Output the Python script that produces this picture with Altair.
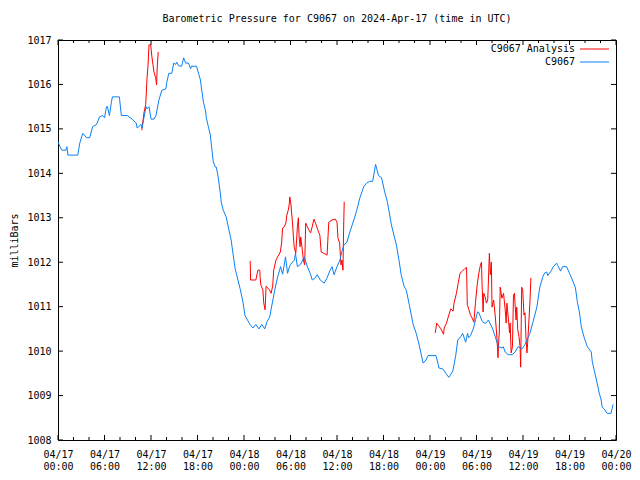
import altair as alt
import pandas as pd

# ---------------- data (hours since 2024-04-17 00:00 UTC, millibars) ----------------
blue_hours = [0.0, 0.26, 0.51, 1.02, 1.15, 1.28, 2.55, 2.81, 3.19, 3.70, 4.09, 4.47, 4.98, 5.36,
              5.74, 6.0, 6.26, 6.38, 6.64, 6.89, 7.02, 7.92, 8.17, 8.94, 9.57, 10.09, 10.21, 10.72,
              10.85, 11.11, 11.36, 11.49, 11.74, 12.0, 12.38, 12.64, 13.02, 13.40, 13.92, 14.04,
              14.30, 14.68, 14.94, 15.19, 15.32, 15.57, 15.96, 16.21, 16.47, 16.85, 17.11, 17.23,
              17.87, 18.13, 18.38, 18.51, 18.77, 19.02, 19.15, 19.40, 19.66, 19.79, 20.04, 20.30,
              20.43, 20.68, 20.94, 21.06, 21.32, 21.70, 21.96, 22.34, 22.85, 23.49, 23.87, 24.13,
              24.77, 25.15, 25.53, 25.92, 26.30, 26.68, 26.94, 27.32, 27.96, 28.34, 28.72, 28.98,
              29.36, 29.62, 29.87, 30.0, 30.51, 30.64, 30.89, 31.28, 31.79, 32.17, 32.55, 32.81,
              33.19, 33.45, 33.83, 34.34, 34.72, 35.11, 35.36, 35.62, 36.0, 36.38, 36.64, 36.89,
              37.28, 37.66, 38.17, 38.55, 38.94, 39.45, 39.83, 40.21, 40.60, 40.98, 41.36, 41.75,
              42.13, 42.51, 43.02, 43.66, 44.04, 44.30, 44.68, 44.94, 45.32, 45.83, 46.22, 46.60,
              47.11, 47.49, 47.74, 48.77, 49.02, 49.15, 49.66, 50.04, 50.43, 50.94, 51.32, 51.58,
              51.96, 52.21, 52.60, 52.85, 52.98, 53.23, 53.62, 54.13, 54.26, 54.77, 55.15, 55.53,
              56.04, 56.43, 56.81, 57.32, 57.45, 57.70, 58.09, 58.60, 58.98, 59.36, 59.87, 60.26,
              60.64, 60.89, 61.28, 61.79, 62.17, 62.55, 62.81, 63.06, 63.19, 63.70, 63.83, 64.34,
              64.47, 64.85, 65.11, 65.62, 66.0, 66.38, 66.77, 67.02, 67.28, 67.53, 67.92, 68.30,
              68.81, 68.94, 69.19, 69.57, 69.83, 70.09, 70.21, 70.47, 70.85, 71.36, 71.49, 71.62]
blue_values = [1014.71, 1014.6, 1014.52, 1014.52, 1014.6, 1014.41, 1014.41, 1014.68, 1014.9, 1014.8,
               1014.8, 1015.05, 1015.1, 1015.27, 1015.3, 1015.25, 1015.5, 1015.5, 1015.3, 1015.6,
               1015.72, 1015.72, 1015.3, 1015.3, 1015.22, 1015.13, 1015.02, 1015.1, 1015.02, 1015.27,
               1015.5, 1015.45, 1015.5, 1015.22, 1015.22, 1015.3, 1015.65, 1015.87, 1015.9, 1016.05,
               1016.25, 1016.25, 1016.48, 1016.45, 1016.5, 1016.42, 1016.41, 1016.6, 1016.48, 1016.48,
               1016.35, 1016.41, 1016.41, 1016.25, 1016.1, 1015.92, 1015.6, 1015.42, 1015.24, 1015.05,
               1014.86, 1014.64, 1014.26, 1014.14, 1014.14, 1013.9, 1013.56, 1013.36, 1013.17, 1013.02,
               1012.8, 1012.5, 1011.86, 1011.41, 1011.1, 1010.8, 1010.6, 1010.52, 1010.6, 1010.5,
               1010.6, 1010.5, 1010.65, 1010.77, 1011.37, 1011.67, 1011.9, 1011.73, 1012.12, 1011.75,
               1011.9, 1011.95, 1012.05, 1012.2, 1011.9, 1011.95, 1012.12, 1011.9, 1011.75, 1011.6,
               1011.65, 1011.72, 1011.6, 1011.53, 1011.65, 1011.82, 1011.9, 1011.72, 1011.9, 1012.05,
               1012.25, 1012.39, 1012.45, 1012.68, 1012.95, 1013.17, 1013.44, 1013.7, 1013.78, 1013.82,
               1013.82, 1014.2, 1013.95, 1013.9, 1013.6, 1013.35, 1012.84, 1012.39, 1012.0, 1011.7,
               1011.45, 1011.37, 1011.05, 1010.6, 1010.4, 1010.14, 1009.73, 1009.8, 1009.9, 1009.9,
               1009.73, 1009.62, 1009.6, 1009.5, 1009.41, 1009.55, 1009.9, 1010.25, 1010.32, 1010.4,
               1010.2, 1010.4, 1010.3, 1010.35, 1010.52, 1010.88, 1010.88, 1010.66, 1010.62, 1010.7,
               1010.52, 1010.32, 1010.1, 1010.07, 1010.1, 1009.98, 1009.92, 1009.92, 1009.98, 1010.1,
               1010.05, 1010.15, 1010.3, 1010.4, 1010.65, 1010.99, 1011.44, 1011.67, 1011.76, 1011.78,
               1011.7, 1011.82, 1011.88, 1011.98, 1011.93, 1011.8, 1011.9, 1011.9, 1011.75, 1011.6,
               1011.42, 1011.1, 1010.88, 1010.54, 1010.29, 1010.1, 1009.98, 1009.76, 1009.57, 1009.28,
               1009.06, 1008.9, 1008.74, 1008.7, 1008.6, 1008.6, 1008.7, 1008.8]

red1_hours = [10.81, 10.89, 11.11, 11.32, 11.49, 11.62, 11.74, 11.96, 12.09, 12.26, 12.38, 12.60,
              12.72, 12.80, 12.93]
red1_values = [1014.97, 1015.08, 1015.38, 1015.55, 1016.15, 1016.44, 1016.89, 1016.89, 1016.66,
               1016.44, 1016.28, 1016.15, 1015.99, 1016.37, 1016.73]

red2_hours = [24.80, 24.85, 25.53, 25.79, 26.04, 26.08, 26.17, 26.43, 26.55, 26.72, 26.85, 27.28,
              27.49, 27.70, 27.83, 28.13, 28.34, 28.69, 28.85, 28.98, 29.20, 29.40, 29.53, 29.71,
              29.83, 29.91, 30.04, 30.26, 30.38, 30.47, 30.68, 30.89, 31.02, 31.11, 31.24, 31.32,
              31.53, 31.66, 31.83, 31.96, 32.17, 32.39, 32.59, 32.81, 33.02, 33.23, 33.54, 33.79,
              33.96, 34.30, 34.72, 34.85, 34.94, 35.36, 35.79, 36.0, 36.13, 36.34, 36.51, 36.64,
              36.77, 36.85, 36.93]
red2_values = [1012.03, 1011.6, 1011.6, 1011.82, 1011.82, 1011.66, 1011.49, 1011.38, 1011.08,
               1010.93, 1011.46, 1011.38, 1011.3, 1011.46, 1011.82, 1012.05, 1012.12, 1012.23,
               1012.43, 1012.77, 1012.8, 1012.88, 1013.06, 1013.17, 1013.29, 1013.47, 1013.33,
               1012.88, 1012.57, 1012.35, 1012.2, 1012.8, 1013.0, 1012.57, 1012.35, 1012.57,
               1012.27, 1012.05, 1011.94, 1012.88, 1012.8, 1012.72, 1012.66, 1012.8, 1012.97,
               1012.88, 1012.72, 1012.61, 1012.23, 1012.2, 1012.16, 1012.61, 1012.9, 1012.95,
               1012.97, 1012.9, 1012.54, 1012.43, 1011.94, 1012.05, 1011.82, 1012.72, 1013.36]

red3_hours = [48.68, 48.86, 49.11, 49.41, 49.75, 49.83, 50.13, 50.39, 50.68, 50.98, 51.10, 51.41,
              51.66, 51.87, 52.17, 52.51, 52.72, 52.81, 53.02, 53.23, 53.45, 53.66, 53.87, 54.09,
              54.30, 54.51, 54.64, 54.72, 54.85, 54.94, 55.15, 55.28, 55.45, 55.66, 55.79, 55.92,
              56.00, 56.21, 56.43, 56.64, 56.72, 56.77, 56.85, 56.94, 57.06, 57.28, 57.49, 57.70,
              57.83, 57.92, 58.13, 58.26, 58.34, 58.47, 58.64, 58.77, 58.90, 58.98, 59.11, 59.19,
              59.32, 59.49, 59.62, 59.70, 59.83, 59.96, 60.13, 60.26, 60.38, 60.51, 60.60, 60.77,
              60.89, 61.02]
red3_values = [1010.41, 1010.63, 1010.57, 1010.5, 1010.38, 1010.52, 1010.63, 1010.79, 1010.95,
               1010.9, 1011.08, 1011.3, 1011.55, 1011.75, 1011.8, 1011.86, 1011.88, 1011.05,
               1010.93, 1010.81, 1010.74, 1010.65, 1011.1, 1011.49, 1011.75, 1011.94, 1012.0,
               1011.49, 1010.88, 1011.3, 1011.2, 1011.08, 1011.15, 1012.2, 1011.72, 1012.0,
               1010.99, 1011.15, 1010.77, 1010.29, 1010.05, 1009.85, 1010.18, 1010.41, 1011.44,
               1011.19, 1011.3, 1010.93, 1010.63, 1011.08, 1010.7, 1010.41, 1010.63, 1009.96,
               1010.1, 1011.26, 1011.3, 1011.04, 1010.7, 1010.99, 1010.48, 1010.32, 1010.1,
               1009.64, 1011.44, 1011.38, 1010.81, 1010.86, 1010.32, 1009.96, 1010.18, 1010.7,
               1011.08, 1011.65]

major_hours = [0, 6, 12, 18, 24, 30, 36, 42, 48, 54, 60, 66, 72]
minor_hours = [2, 4, 8, 10, 14, 16, 20, 22, 26, 28, 32, 34, 38, 40, 44, 46, 50, 52, 56, 58,
               62, 64, 68, 70]
tick_dates = ["04/17", "04/17", "04/17", "04/17", "04/18", "04/18", "04/18", "04/18",
              "04/19", "04/19", "04/19", "04/19", "04/20"]
tick_times = ["00:00", "06:00", "12:00", "18:00", "00:00", "06:00", "12:00", "18:00",
              "00:00", "06:00", "12:00", "18:00", "00:00"]
y_ticks = [1008, 1009, 1010, 1011, 1012, 1013, 1014, 1015, 1016, 1017]

series_names = ["C9067 Analysis", "C9067"]
RED = "#ff0000"
BLUE = "#0a80f5"
FONT = "DejaVu Sans Mono"
TITLE = "Barometric Pressure for C9067 on 2024-Apr-17 (time in UTC)"

W, H = 558, 400

# ---------------- frames ----------------
blue_df = pd.DataFrame({"h": blue_hours, "v": blue_values})
red_df = pd.concat([
    pd.DataFrame({"h": red1_hours, "v": red1_values, "seg": 1}),
    pd.DataFrame({"h": red2_hours, "v": red2_values, "seg": 2}),
    pd.DataFrame({"h": red3_hours, "v": red3_values, "seg": 3}),
], ignore_index=True)

label_pairs = ",".join("['%s','%s']" % (d, t) for d, t in zip(tick_dates, tick_times))
label_expr = "[" + label_pairs + "][round(datum.value / 6)]"

xs = alt.Scale(domain=[0, 72], nice=False, zero=False)
ys = alt.Scale(domain=[1008, 1017], nice=False, zero=False)

x_axis = alt.Axis(values=major_hours, labelExpr=label_expr, title=None, ticks=False,
                  domain=False, grid=False, labelPadding=9, labelFlush=False,
                  labelBaseline="top", labelLineHeight=12, labelFont=FONT, labelFontSize=10,
                  labelColor="black", labelOverlap=False)
y_axis = alt.Axis(values=y_ticks, format="d", title="milliBars", ticks=False, domain=False,
                  grid=False, labelPadding=7, labelFont=FONT, labelFontSize=10,
                  labelColor="black", titleFont=FONT, titleFontSize=10,
                  titleFontWeight="normal", titleColor="black", titleAngle=270,
                  titleX=-44, titleY=H / 2, titleAlign="center", titleBaseline="middle")

red = alt.Chart(red_df).mark_line(color=RED, strokeWidth=1, clip=True).encode(
    x=alt.X("h:Q", scale=xs, axis=x_axis),
    y=alt.Y("v:Q", scale=ys, axis=y_axis),
    detail="seg:N",
)
blue = alt.Chart(blue_df).mark_line(color=BLUE, strokeWidth=1, clip=True).encode(
    x=alt.X("h:Q", scale=xs),
    y=alt.Y("v:Q", scale=ys),
)

# inward ticks (bottom/top mirrored, left/right mirrored)
maj_df = pd.DataFrame({"h": major_hours})
min_df = pd.DataFrame({"h": minor_hours})
yt_df = pd.DataFrame({"v": y_ticks})

def xticks(df, length):
    bot = alt.Chart(df).mark_rule(color="black", strokeWidth=1).encode(
        x=alt.X("h:Q", scale=xs), y=alt.value(H), y2=alt.value(H - length))
    top = alt.Chart(df).mark_rule(color="black", strokeWidth=1).encode(
        x=alt.X("h:Q", scale=xs), y=alt.value(0), y2=alt.value(length))
    return [bot, top]

yl = alt.Chart(yt_df).mark_rule(color="black", strokeWidth=1).encode(
    y=alt.Y("v:Q", scale=ys), x=alt.value(0), x2=alt.value(5))
yr = alt.Chart(yt_df).mark_rule(color="black", strokeWidth=1).encode(
    y=alt.Y("v:Q", scale=ys), x=alt.value(W), x2=alt.value(W - 5))

# key (gnuplot style: label then line sample)
key_layers = []
for name, col, yy in zip(series_names, [RED, BLUE], [9, 22]):
    kdf = pd.DataFrame({"t": [name]})
    key_layers.append(alt.Chart(kdf).mark_text(align="right", baseline="middle", font=FONT,
                                               fontSize=10, color="black").encode(
        text="t:N", x=alt.value(517), y=alt.value(yy)))
    key_layers.append(alt.Chart(kdf).mark_rule(color=col, strokeWidth=1).encode(
        x=alt.value(522), x2=alt.value(551), y=alt.value(yy)))

chart = alt.layer(
    red, blue, *xticks(maj_df, 5), *xticks(min_df, 3), yl, yr, *key_layers
).properties(
    width=W, height=H,
    title=alt.TitleParams(TITLE, anchor="middle", font=FONT, fontSize=10,
                          fontWeight="normal", color="black", offset=11),
    autosize=alt.AutoSizeParams(type="none"),
    padding={"left": 50, "top": 32, "right": 16, "bottom": 32},
    background="white",
).configure_view(stroke="black", strokeWidth=1)

chart.save("out.html", embed_options={"renderer": "svg", "actions": False})
